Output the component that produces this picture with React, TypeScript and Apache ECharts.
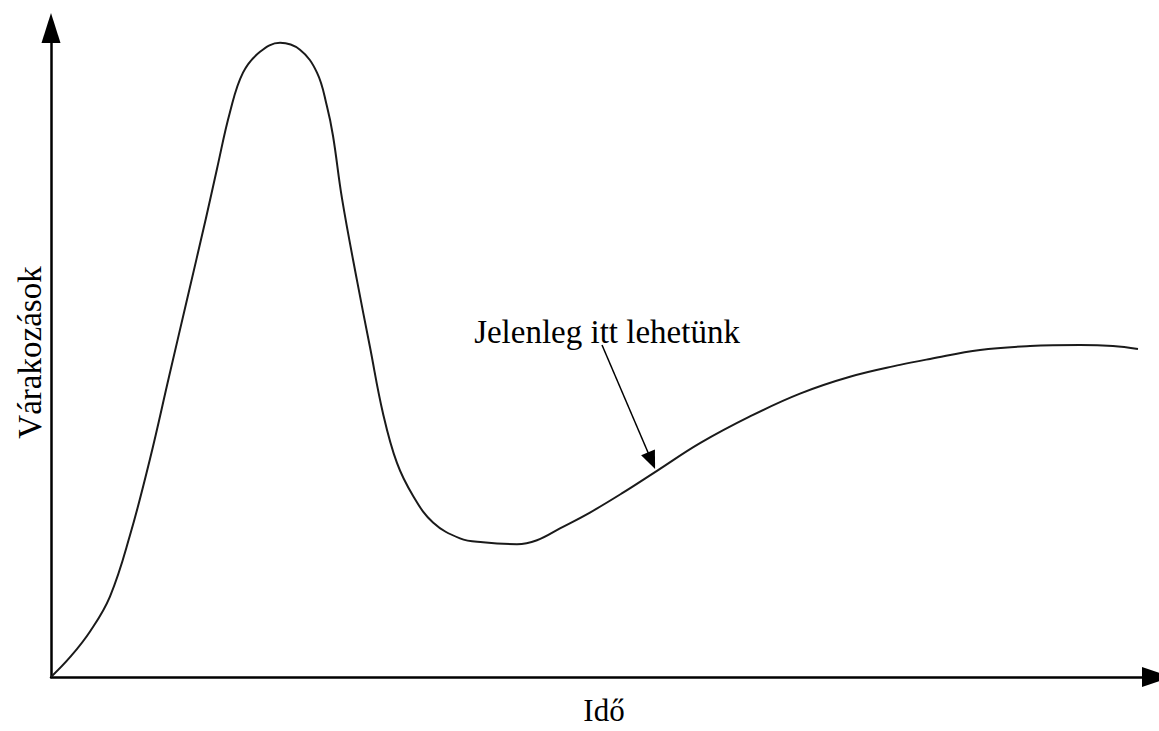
import React, { useEffect, useRef } from "react";
import * as echarts from "echarts";

// Hype-cycle curve: time (0-100) vs. expectations (0-100)
const timeValues = [
  0, 1.72, 3.53, 5.33, 7.14, 8.95, 10.67, 12.3, 14.01, 15.01, 16.18, 17.36,
  18.9, 20.71, 22.51, 24.05, 24.95, 25.5, 26.31, 27.67, 28.84, 30.02, 31.28,
  32.73, 34.54, 36.98, 39.06, 42.13, 43.94, 46.02, 48.73, 51.72, 54.79, 58.68,
  63.2, 67.72, 72.24, 76.76, 79.48, 84.0, 88.52, 93.04, 96.02, 98.28,
];
const expectationValues = [
  0, 3.05, 7.02, 12.4, 21.83, 33.59, 46.26, 58.17, 70.69, 78.32, 87.02, 93.13,
  96.34, 97.71, 96.64, 93.13, 87.94, 83.36, 73.74, 61.07, 50.84, 40.61, 32.98,
  27.94, 23.82, 21.37, 20.76, 20.46, 21.07, 22.9, 25.34, 28.4, 31.76, 36.03,
  40.15, 43.66, 46.26, 48.09, 49.01, 50.38, 50.99, 51.15, 50.99, 50.53,
];

const xAxisName = "Idő";
const yAxisName = "Várakozások";
const annotationText = "Jelenleg itt lehetünk";
const annotationArrowFrom = [49.82, 51.15];
const annotationArrowTo = [54.3, 33.33];

const FONT = "'Liberation Serif', 'Times New Roman', serif";

export default function App() {
  const ref = useRef<HTMLDivElement>(null);

  useEffect(() => {
    if (!ref.current) return;
    const chart = echarts.init(ref.current, undefined, { renderer: "svg" });
    const data = timeValues.map((t, i) => [t, expectationValues[i]]);

    chart.setOption({
      animation: false,
      backgroundColor: "#ffffff",
      grid: { left: 51, right: 2, top: 28, bottom: 48, containLabel: false },
      xAxis: {
        type: "value",
        min: 0,
        max: 100,
        name: xAxisName,
        nameLocation: "middle",
        nameGap: 18,
        nameTextStyle: { fontFamily: FONT, fontSize: 31, color: "#000" },
        axisLine: {
          show: true,
          symbol: ["none", "triangle"],
          symbolSize: [20, 30],
          lineStyle: { color: "#000", width: 2.5 },
        },
        axisTick: { show: false },
        axisLabel: { show: false },
        splitLine: { show: false },
      },
      yAxis: {
        type: "value",
        min: 0,
        max: 100,
        name: yAxisName,
        nameLocation: "middle",
        nameGap: 5,
        nameTextStyle: { fontFamily: FONT, fontSize: 33, color: "#000" },
        axisLine: {
          show: true,
          symbol: ["none", "triangle"],
          symbolSize: [19, 30],
          lineStyle: { color: "#000", width: 2.5 },
        },
        axisTick: { show: false },
        axisLabel: { show: false },
        splitLine: { show: false },
      },
      graphic: [
        {
          type: "text",
          x: 607,
          y: 332,
          silent: true,
          style: {
            text: annotationText,
            textAlign: "center",
            textVerticalAlign: "middle",
            fontFamily: FONT,
            fontSize: 33,
            fill: "#000",
          },
        },
      ],
      series: [
        {
          type: "line",
          data,
          smooth: 0.4,
          symbol: "none",
          silent: true,
          lineStyle: { color: "#1a1a1a", width: 2 },
          emphasis: { disabled: true },
          markLine: {
            silent: true,
            symbol: ["none", "triangle"],
            symbolSize: [15, 18],
            label: { show: false },
            lineStyle: { color: "#000", width: 1.5, type: "solid" },
            emphasis: { disabled: true },
            data: [[{ coord: annotationArrowFrom }, { coord: annotationArrowTo }]],
          },
        },
      ],
    });

    return () => chart.dispose();
  }, []);

  return (
    <div
      ref={ref}
      style={{ position: "fixed", left: 0, top: 0, width: 1159, height: 731 }}
    />
  );
}
